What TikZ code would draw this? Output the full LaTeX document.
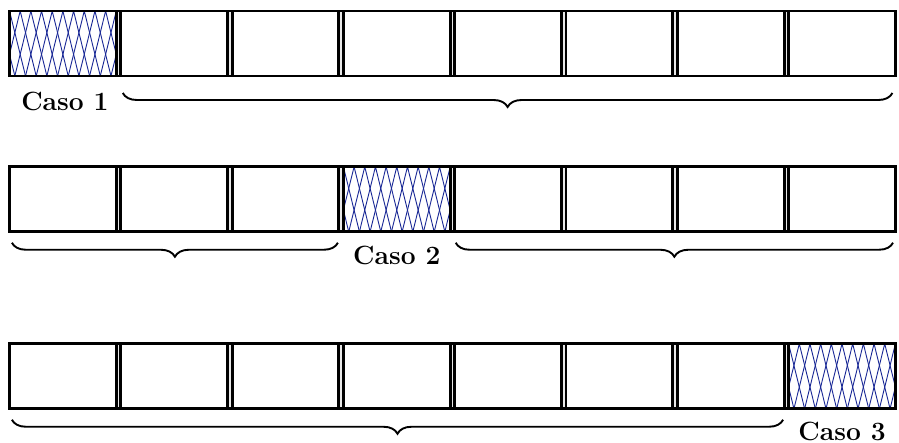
\documentclass[tikz,border=0pt]{standalone}
\usetikzlibrary{decorations.pathreplacing,backgrounds}
\definecolor{hatchblue}{RGB}{25,40,150}
\definecolor{gapgray}{RGB}{232,232,232}
\tikzset{
  x=0.5pt, y=-0.5pt,
  cell/.style={draw=black, fill=white, line width=1.45pt, minimum width=53.4pt,
    minimum height=32.5pt, inner sep=0pt, outer sep=0pt},
  hatchline/.style={draw=hatchblue, line width=0.45pt},
  hatched/.style={cell, path picture={
    \foreach \k in {-3,...,13}{
      \draw[hatchline]
        ([xshift=\k*5.34pt-8.01pt]path picture bounding box.south west) --
        ([xshift=\k*5.34pt]path picture bounding box.north west) --
        ([xshift=\k*5.34pt+8.01pt]path picture bounding box.south west);
    }}},
  rowedge/.style={draw=black, line width=1.45pt},
  bracket/.style={draw=black, line width=0.95pt, decorate,
    decoration={brace, mirror, amplitude=7pt}},
  caption/.style={font=\fontsize{13.2}{15}\selectfont\bfseries, inner sep=0pt}
}
\begin{document}
\begin{tikzpicture}
\useasboundingbox (0,0) rectangle (899,443);

% three rows of eight cells
\foreach \r/\yc/\h in {1/43.5/0, 2/199.25/3, 3/376.25/7}{
  \foreach \c in {0,...,7}{
    \pgfmathtruncatemacro{\n}{\c+1}
    \ifnum\c=\h
      \node[hatched] (r\r c\n) at (62.9+111.3*\c, \yc) {};
    \else
      \node[cell] (r\r c\n) at (62.9+111.3*\c, \yc) {};
    \fi
  }
  % shaded gaps and continuous top/bottom edges
  \begin{scope}[on background layer]
    \fill[gapgray] (r\r c1.north west) rectangle (r\r c8.south east);
  \end{scope}
  \draw[rowedge] (r\r c1.north west) -- (r\r c8.north east);
  \draw[rowedge] (r\r c1.south west) -- (r\r c8.south east);
}

% braces and captions
\draw[bracket] ([xshift=1pt,yshift=-8.5pt]r1c2.south west) -- ([xshift=-1.5pt,yshift=-8.5pt]r1c8.south east);
\node[caption] (caso1) at ([xshift=1pt,yshift=-12.5pt]r1c1.south) {Caso 1};

\draw[bracket] ([xshift=1.2pt,yshift=-5.5pt]r2c1.south west) -- ([xshift=-0.5pt,yshift=-5.5pt]r2c3.south east);
\draw[bracket] ([xshift=0.5pt,yshift=-5.5pt]r2c5.south west) -- ([xshift=-1.2pt,yshift=-5.5pt]r2c8.south east);
\node[caption] (caso2) at ([yshift=-12pt]r2c4.south) {Caso 2};

\draw[bracket] ([xshift=1.2pt,yshift=-5.5pt]r3c1.south west) -- ([xshift=-0.5pt,yshift=-5.5pt]r3c7.south east);
\node[caption] (caso3) at ([yshift=-11.5pt]r3c8.south) {Caso 3};
\end{tikzpicture}
\end{document}
